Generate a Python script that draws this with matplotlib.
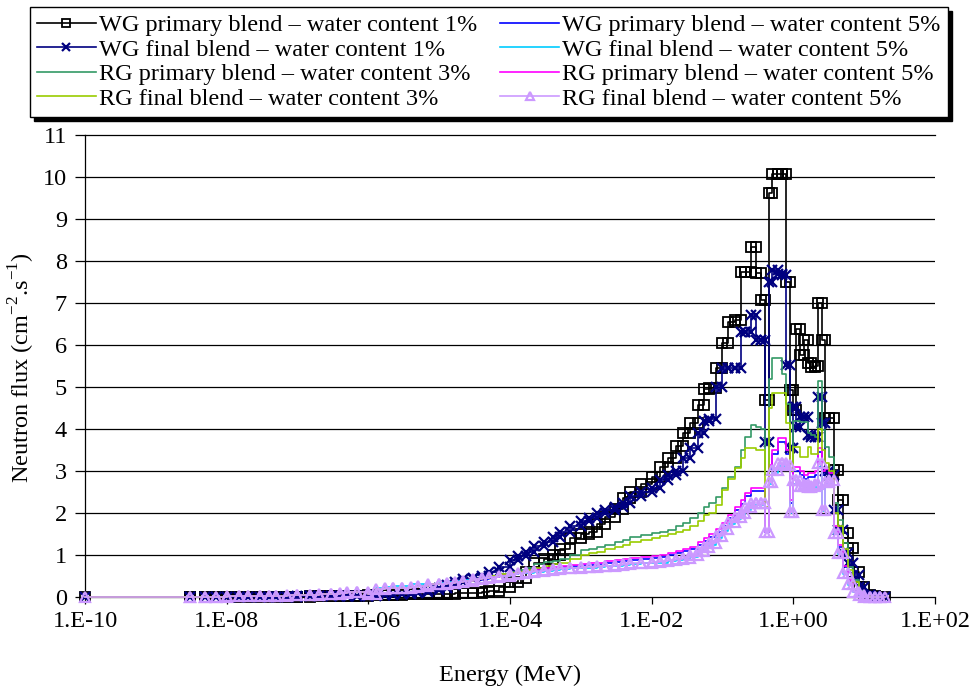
import matplotlib
matplotlib.use('Agg')
import matplotlib.pyplot as plt
from matplotlib.ticker import FixedLocator, NullLocator

plt.rcParams['font.family'] = ['Liberation Serif', 'DejaVu Serif']
plt.rcParams['mathtext.fontset'] = 'custom'
plt.rcParams['mathtext.rm'] = 'Liberation Serif'

# ---------------- data ----------------
group_edges_mev = [
    1e-10, 3e-9, 5e-9, 7e-9, 1e-8, 1.5e-8, 2e-8, 3e-8, 4e-8, 5e-8, 7e-8,
    1e-7, 1.5e-7, 2e-7, 3e-7, 4e-7, 5e-7, 7e-7,
    1e-6, 1.3e-6, 1.7e-6, 2.2e-6, 3e-6, 4e-6, 5e-6, 7e-6,
    1e-5, 1.3e-5, 1.7e-5, 2.2e-5, 3e-5, 4e-5, 5e-5, 7e-5,
    1e-4, 1.3e-4, 1.7e-4, 2.2e-4, 3e-4, 4e-4, 5e-4, 7e-4,
    1e-3, 1.3e-3, 1.7e-3, 2.2e-3, 3e-3, 4e-3, 5e-3, 7e-3,
    1e-2, 1.3e-2, 1.7e-2, 2.2e-2, 2.8e-2, 3.5e-2, 4.5e-2, 5.5e-2, 6.5e-2, 8e-2,
    0.1, 0.12, 0.15, 0.18, 0.21, 0.25, 0.3, 0.35, 0.4, 0.45, 0.5, 0.6, 0.7, 0.8, 0.9,
    1.0, 1.1, 1.25, 1.4, 1.6, 1.8, 2.0, 2.2, 2.5, 2.8, 3.2, 3.7, 4.3, 5.0, 6.0, 7.0, 8.5,
    10.0, 12.0, 14.0, 17.0, 20.0,
]

wg_primary_1 = [
    0.0, 0.0, 0.0, 0.0, 0.0, 0.0, 0.01, 0.01, 0.01, 0.01, 0.01, 0.01, 0.02, 0.02, 0.02, 0.03, 0.03, 0.03,
    0.04, 0.05, 0.05, 0.05, 0.06, 0.06, 0.07, 0.08, 0.08, 0.08, 0.09, 0.1, 0.1, 0.12, 0.15, 0.25,
    0.36, 0.45, 0.6, 0.8, 0.9, 1.0, 1.15, 1.4, 1.5, 1.55, 1.75, 1.9, 2.1, 2.35, 2.5, 2.7,
    2.85, 3.1, 3.3, 3.6, 3.9, 4.15, 4.57, 4.95, 4.98, 5.45, 6.05, 6.55, 6.6, 7.74, 7.74, 8.33,
    7.71, 7.07, 4.7, 9.62, 10.07, 10.07, 10.07, 7.5, 4.93, 4.45, 6.38, 5.76, 6.12, 5.57, 5.48,
    5.5, 7.0, 6.12, 4.26, 4.26, 3.02, 2.31, 1.52, 1.17, 0.6, 0.24, 0.05, 0.02, 0.0, 0.0,
]
wg_final_1 = [
    0.0, 0.0, 0.0, 0.0, 0.0, 0.0, 0.01, 0.01, 0.01, 0.01, 0.01, 0.02, 0.02, 0.02, 0.02, 0.02, 0.03, 0.03,
    0.02, 0.04, 0.05, 0.06, 0.08, 0.1, 0.13, 0.17, 0.22, 0.28, 0.35, 0.42, 0.46, 0.5, 0.6, 0.72,
    0.88, 0.98, 1.08, 1.22, 1.32, 1.42, 1.55, 1.68, 1.8, 1.88, 2.0, 2.08, 2.15, 2.25, 2.4, 2.5,
    2.6, 2.79, 2.9, 3.0, 3.3, 3.55, 3.9, 4.2, 4.25, 5.0, 5.45, 5.45, 5.45, 6.3, 6.3, 6.71,
    6.12, 6.12, 3.69, 7.5, 7.78, 7.7, 7.67, 5.52, 3.55, 4.52, 4.05, 4.29, 4.29, 3.86, 3.81,
    3.81, 4.76, 4.14, 3.0, 2.9, 2.07, 1.6, 1.05, 0.8, 0.52, 0.24, 0.05, 0.02, 0.0, 0.0,
]
rg_primary_3 = [
    0.01, 0.01, 0.01, 0.01, 0.02, 0.02, 0.02, 0.03, 0.03, 0.03, 0.04, 0.04, 0.05, 0.06, 0.07, 0.09, 0.12, 0.12,
    0.06, 0.19, 0.21, 0.21, 0.22, 0.24, 0.27, 0.3, 0.31, 0.33, 0.36, 0.38, 0.42, 0.45, 0.5, 0.55,
    0.6, 0.65, 0.7, 0.78, 0.83, 0.86, 0.9, 1.0, 1.12, 1.15, 1.2, 1.25, 1.3, 1.36, 1.42, 1.48,
    1.52, 1.55, 1.6, 1.68, 1.76, 1.88, 2.0, 2.15, 2.25, 2.38, 2.6, 2.86, 3.1, 3.5, 3.8, 4.1,
    4.05, 4.0, 2.9, 5.2, 5.7, 5.7, 5.3, 4.6, 3.2, 4.2, 4.2, 4.17, 4.17, 3.9, 3.85,
    3.8, 5.15, 3.98, 3.57, 3.33, 2.24, 1.83, 1.29, 0.71, 0.4, 0.15, 0.03, 0.01, 0.0, 0.0,
]
rg_final_3 = [
    0.01, 0.01, 0.01, 0.01, 0.02, 0.02, 0.02, 0.03, 0.03, 0.03, 0.04, 0.04, 0.05, 0.06, 0.07, 0.09, 0.12, 0.12,
    0.06, 0.19, 0.21, 0.21, 0.22, 0.24, 0.27, 0.3, 0.31, 0.33, 0.36, 0.38, 0.42, 0.45, 0.5, 0.55,
    0.58, 0.6, 0.65, 0.7, 0.74, 0.78, 0.82, 0.9, 1.0, 1.04, 1.08, 1.14, 1.2, 1.25, 1.3, 1.35,
    1.4, 1.45, 1.5, 1.55, 1.6, 1.7, 1.8, 1.95, 2.0, 2.2, 2.55, 2.8, 3.07, 3.3, 3.55, 3.55,
    3.5, 3.5, 2.14, 4.5, 4.86, 4.86, 4.86, 4.14, 3.0, 3.57, 3.57, 3.33, 3.33, 3.57, 3.4,
    3.4, 4.0, 3.5, 3.2, 3.0, 2.0, 1.7, 1.15, 0.65, 0.35, 0.12, 0.02, 0.01, 0.0, 0.0,
]
wg_primary_5 = [
    0.01, 0.01, 0.01, 0.01, 0.02, 0.02, 0.02, 0.03, 0.03, 0.03, 0.04, 0.04, 0.05, 0.06, 0.07, 0.09, 0.12, 0.12,
    0.06, 0.19, 0.21, 0.21, 0.22, 0.24, 0.27, 0.3, 0.31, 0.33, 0.36, 0.39, 0.41, 0.44, 0.47, 0.5,
    0.55, 0.58, 0.61, 0.64, 0.67, 0.69, 0.71, 0.74, 0.76, 0.77, 0.79, 0.82, 0.84, 0.86, 0.88, 0.9,
    0.92, 0.95, 1.0, 1.05, 1.1, 1.15, 1.24, 1.34, 1.44, 1.55, 1.7, 1.88, 2.06, 2.22, 2.4, 2.52,
    2.52, 2.52, 1.55, 3.05, 3.4, 3.68, 3.68, 3.4, 2.25, 3.0, 3.0, 2.9, 2.82, 2.86, 2.86,
    2.9, 3.45, 2.9, 2.95, 2.85, 1.65, 1.2, 0.72, 0.38, 0.18, 0.06, 0.01, 0.0, 0.0, 0.0,
]
wg_final_5 = [
    0.01, 0.01, 0.01, 0.01, 0.02, 0.02, 0.02, 0.03, 0.03, 0.03, 0.04, 0.04, 0.05, 0.06, 0.08, 0.1, 0.13, 0.13,
    0.07, 0.22, 0.25, 0.26, 0.27, 0.3, 0.3, 0.32, 0.33, 0.35, 0.37, 0.4, 0.42, 0.45, 0.48, 0.5,
    0.54, 0.56, 0.58, 0.6, 0.62, 0.64, 0.66, 0.68, 0.69, 0.7, 0.72, 0.73, 0.75, 0.76, 0.78, 0.8,
    0.8, 0.82, 0.85, 0.87, 0.9, 0.96, 1.06, 1.16, 1.25, 1.4, 1.58, 1.73, 1.85, 1.95, 2.08, 2.18,
    2.18, 2.18, 1.55, 2.68, 2.96, 3.12, 3.12, 3.06, 2.0, 2.7, 2.7, 2.58, 2.6, 2.55, 2.58,
    2.62, 3.1, 2.05, 2.68, 2.7, 1.5, 1.02, 0.55, 0.28, 0.11, 0.04, 0.01, 0.0, 0.0, 0.0,
]
rg_primary_5 = [
    0.01, 0.01, 0.01, 0.01, 0.02, 0.02, 0.02, 0.03, 0.03, 0.03, 0.04, 0.04, 0.05, 0.06, 0.07, 0.09, 0.12, 0.12,
    0.06, 0.19, 0.21, 0.21, 0.22, 0.24, 0.27, 0.3, 0.31, 0.33, 0.36, 0.39, 0.42, 0.45, 0.48, 0.52,
    0.57, 0.6, 0.63, 0.66, 0.7, 0.72, 0.74, 0.77, 0.79, 0.8, 0.82, 0.85, 0.87, 0.9, 0.92, 0.95,
    0.97, 1.0, 1.05, 1.1, 1.15, 1.2, 1.3, 1.4, 1.5, 1.62, 1.76, 1.95, 2.14, 2.3, 2.48, 2.6,
    2.6, 2.6, 1.55, 3.14, 3.5, 3.78, 3.78, 3.5, 2.3, 3.1, 3.1, 3.0, 2.9, 2.95, 2.95,
    3.0, 3.55, 3.0, 3.05, 2.95, 1.7, 1.25, 0.75, 0.4, 0.2, 0.07, 0.01, 0.0, 0.0, 0.0,
]
rg_final_5 = [
    0.01, 0.01, 0.01, 0.01, 0.02, 0.02, 0.02, 0.03, 0.03, 0.03, 0.04, 0.04, 0.05, 0.06, 0.07, 0.09, 0.12, 0.12,
    0.06, 0.2, 0.22, 0.22, 0.22, 0.24, 0.27, 0.3, 0.31, 0.33, 0.36, 0.39, 0.42, 0.45, 0.48, 0.5,
    0.55, 0.57, 0.6, 0.62, 0.64, 0.66, 0.68, 0.7, 0.71, 0.72, 0.74, 0.75, 0.77, 0.78, 0.8, 0.82,
    0.83, 0.85, 0.88, 0.9, 0.93, 1.0, 1.1, 1.2, 1.29, 1.45, 1.62, 1.78, 1.9, 2.0, 2.14, 2.24,
    2.24, 2.24, 1.55, 2.74, 3.02, 3.2, 3.2, 3.14, 2.02, 2.79, 2.79, 2.65, 2.7, 2.62, 2.65,
    2.7, 3.19, 2.07, 2.75, 2.79, 1.52, 1.05, 0.57, 0.3, 0.12, 0.05, 0.01, 0.0, 0.0, 0.0,
]

labels = [
    'WG primary blend \u2013 water content 1%',
    'WG final blend \u2013 water content 1%',
    'RG primary blend \u2013 water content 3%',
    'RG final blend \u2013 water content 3%',
    'WG primary blend \u2013 water content 5%',
    'WG final blend \u2013 water content 5%',
    'RG primary blend \u2013 water content 5%',
    'RG final blend \u2013 water content 5%',
]
x_tick_values = [1e-10, 1e-8, 1e-6, 1e-4, 1e-2, 1e0, 1e2]
x_tick_labels = ['1.E-10', '1.E-08', '1.E-06', '1.E-04', '1.E-02', '1.E+00', '1.E+02']
y_tick_values = list(range(0, 12))


def step_xy(edges, vals):
    assert len(edges) == len(vals) + 1
    xs, ys = [], []
    for i, v in enumerate(vals):
        xs += [edges[i], edges[i + 1]]
        ys += [v, v]
    return xs, ys


FS = 17.5
fig = plt.figure(figsize=(9.73, 6.88), dpi=100)
ax = fig.add_axes([85 / 973, 1 - 597 / 688, 850 / 973, 462 / 688])

series = [
    (wg_primary_1, 0, dict(color='black', marker='s', ms=7, mfc='none', mew=1.3, lw=1.2)),
    (wg_primary_5, 4, dict(color='#0000FF', lw=1.2)),
    (wg_final_1, 1, dict(color='#000080', marker='x', ms=7, mew=1.6, lw=1.2)),
    (wg_final_5, 5, dict(color='#00CCFF', lw=1.2)),
    (rg_primary_3, 2, dict(color='#339966', lw=1.2)),
    (rg_primary_5, 6, dict(color='#FF00FF', lw=1.2)),
    (rg_final_3, 3, dict(color='#99CC00', lw=1.2)),
    (rg_final_5, 7, dict(color='#CC99FF', marker='^', ms=7, mfc='none', mew=1.6, lw=1.2)),
]
handles = [None] * 8
for z, (vals, li, st) in enumerate(series):
    xs, ys = step_xy(group_edges_mev, vals)
    (ln,) = ax.plot(xs, ys, label=labels[li], zorder=3 + z, clip_on=False, **st)
    handles[li] = ln

ax.set_xscale('log')
ax.set_xlim(1e-10, 1e2)
ax.set_ylim(0, 11)
ax.xaxis.set_major_locator(FixedLocator(x_tick_values))
ax.xaxis.set_minor_locator(NullLocator())
ax.set_xticklabels(x_tick_labels)
ax.set_yticks(y_tick_values)
ax.tick_params(axis='both', labelsize=FS, direction='out', color='black')
ax.tick_params(axis='y', length=7, width=0.9, pad=6)
ax.tick_params(axis='x', length=5, width=0.9, pad=5)
for yv in y_tick_values[1:-1]:
    ax.axhline(yv, color='black', lw=0.9, zorder=1)
ax.spines['right'].set_visible(False)
for s in ('left', 'bottom', 'top'):
    ax.spines[s].set_linewidth(0.9)
    ax.spines[s].set_color('black')

fig.text(510 / 973, 1 - 675 / 688, 'Energy (MeV)', ha='center', va='center', fontsize=FS)
fig.text(22 / 973, 1 - 368 / 688,
         r'Neutron flux (cm$^{\mathregular{-2}}$.s$^{\mathregular{-1}}$)',
         ha='center', va='center', rotation=90, fontsize=FS)

leg = fig.legend(handles, labels, ncol=2, loc='lower left', mode='expand',
                 bbox_to_anchor=(30 / 973, 1 - 117 / 688, 918 / 973, 109 / 688),
                 fontsize=FS, frameon=True, fancybox=False, edgecolor='black',
                 framealpha=1, borderpad=0.3, labelspacing=0.1, handlelength=2.4,
                 handletextpad=0.15, borderaxespad=0.0, columnspacing=1.0,
                 markerscale=0.8,
                 shadow={'ox': 3, 'oy': -3, 'facecolor': 'black', 'edgecolor': 'black', 'alpha': 1})
leg.get_frame().set_linewidth(1.0)

fig.savefig('out.png', dpi=100)
